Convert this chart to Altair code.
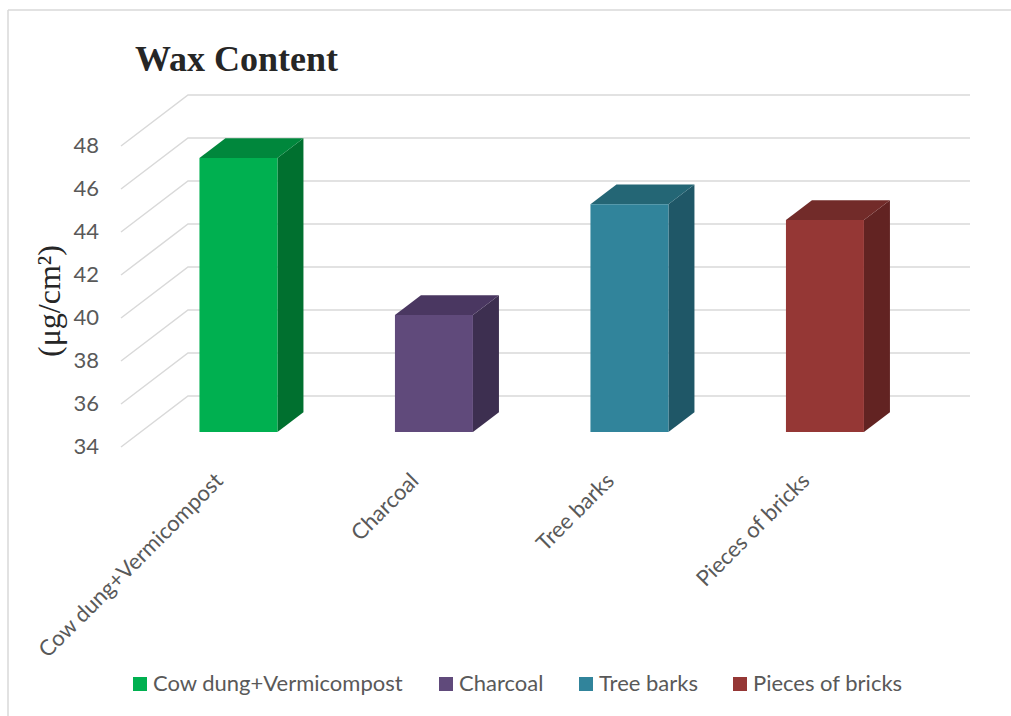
import altair as alt
import pandas as pd

# ---------------- data ----------------
categories = ["Cow dung+Vermicompost", "Charcoal", "Tree barks", "Pieces of bricks"]
values = [46.74, 39.44, 44.59, 43.86]
front_colors = ["#00B050", "#604A7B", "#31849B", "#953735"]
top_colors = ["#00873C", "#4A3761", "#246675", "#722B29"]
side_colors = ["#00702F", "#3D2F50", "#1F5767", "#622322"]
tick_values = [34, 36, 38, 40, 42, 44, 46, 48]
tick_labels = ["34", "36", "38", "40", "42", "44", "46", "48"]
title_text = "Wax Content"
y_title = "(\u03bcg/cm\u00b2)"

# ---------------- layout (pseudo-3D projection) ----------------
W, H = 1011, 716
PX_U = 195.5          # pixels per category band
PX_V = 21.5           # pixels per value unit
X0, Y0 = 121, 447     # front-plane origin in pixels
BASE = 34
x_dom = [-X0 / PX_U, (W - X0) / PX_U]
y_dom = [BASE - (H - Y0) / PX_V, BASE + Y0 / PX_V]

wall_dx, wall_dy = 67 / PX_U, 51 / PX_V          # depth of the back wall
off_dx, off_dy = 19.7 / PX_U, 15 / PX_V          # bar front plane offset
dep_dx, dep_dy = 26 / PX_U, 19.8 / PX_V          # bar depth
bar_w = 78 / PX_U
n = len(categories)

xs = alt.Scale(domain=x_dom, nice=False, zero=False)
ys = alt.Scale(domain=y_dom, nice=False, zero=False)

# gridlines
grid_rows = []
for v in tick_values:
    grid_rows.append({"tick": v, "x": 0.0, "y": v})
    grid_rows.append({"tick": v, "x": wall_dx, "y": v + wall_dy})
    grid_rows.append({"tick": v, "x": n + wall_dx, "y": v + wall_dy})
grid_df = pd.DataFrame(grid_rows)

front_rows, side_rows, top_rows = [], [], []
for i, (c, v) in enumerate(zip(categories, values)):
    xl = i + 0.5 - bar_w / 2 + off_dx
    xr = xl + bar_w
    yb = BASE + off_dy
    yt = v + off_dy
    front_rows.append({"cat": c, "x": xl, "x2": xr, "y": yb, "y2": yt})
    side_rows += [
        {"cat": c, "col": side_colors[i], "x": xr, "lo": yb, "hi": yt},
        {"cat": c, "col": side_colors[i], "x": xr + dep_dx, "lo": yb + dep_dy, "hi": yt + dep_dy},
    ]
    top_rows += [
        {"cat": c, "col": top_colors[i], "x": xl, "lo": yt, "hi": yt},
        {"cat": c, "col": top_colors[i], "x": xl + dep_dx, "lo": yt, "hi": yt + dep_dy},
        {"cat": c, "col": top_colors[i], "x": xr, "lo": yt, "hi": yt + dep_dy},
        {"cat": c, "col": top_colors[i], "x": xr + dep_dx, "lo": yt + dep_dy, "hi": yt + dep_dy},
    ]
front_df = pd.DataFrame(front_rows)
side_df = pd.DataFrame(side_rows)
top_df = pd.DataFrame(top_rows)

label_df = pd.DataFrame({"cat": categories, "u": [i + 0.5 for i in range(n)]})
tick_df = pd.DataFrame({"v": tick_values, "lab": tick_labels})

GRID = "#D9D9D9"
TXT = "#595959"
SANS = "Lato"

border_df = pd.DataFrame({"d": [0]})
border_top = alt.Chart(border_df).mark_rule(color=GRID, strokeWidth=1.5).encode(
    x=alt.value(8), x2=alt.value(W), y=alt.value(10))
border_left = alt.Chart(border_df).mark_rule(color=GRID, strokeWidth=1.5).encode(
    x=alt.value(8), y=alt.value(10), y2=alt.value(H))

grid = alt.Chart(grid_df).mark_line(color=GRID, strokeWidth=1.5).encode(
    x=alt.X("x:Q", scale=xs, axis=None),
    y=alt.Y("y:Q", scale=ys, axis=None),
    detail="tick:N",
    order="x:Q",
)

side = alt.Chart(side_df).mark_area(opacity=1).encode(
    x=alt.X("x:Q", scale=xs, axis=None),
    y=alt.Y("lo:Q", scale=ys, axis=None, stack=None),
    y2="hi:Q",
    fill=alt.Fill("col:N", scale=None, legend=None),
    detail="cat:N",
)
top = alt.Chart(top_df).mark_area(opacity=1).encode(
    x=alt.X("x:Q", scale=xs, axis=None),
    y=alt.Y("lo:Q", scale=ys, axis=None, stack=None),
    y2="hi:Q",
    fill=alt.Fill("col:N", scale=None, legend=None),
    detail="cat:N",
)

front = alt.Chart(front_df).mark_rect().encode(
    x=alt.X("x:Q", scale=xs, axis=None),
    x2="x2:Q",
    y=alt.Y("y:Q", scale=ys, axis=None),
    y2="y2:Q",
    color=alt.Color(
        "cat:N",
        scale=alt.Scale(domain=categories, range=front_colors),
        legend=alt.Legend(
            orient="none", legendX=129, legendY=673, direction="horizontal",
            title=None, symbolType="square", symbolSize=196, symbolStrokeWidth=0,
            labelFont=SANS, labelFontSize=22, labelColor=TXT, labelOffset=2,
            columnPadding=31, padding=0, labelLimit=400,
        ),
    ),
)

ytick_text = alt.Chart(tick_df).mark_text(
    align="right", baseline="middle", font=SANS, fontSize=22, color=TXT
).encode(x=alt.value(99), y=alt.Y("v:Q", scale=ys, axis=None), text="lab:N")

cat_text = alt.Chart(label_df).mark_text(
    align="right", baseline="middle", angle=315, font=SANS, fontSize=22, color=TXT, dx=1
).encode(x=alt.X("u:Q", scale=xs, axis=None), y=alt.value(478), text="cat:N")

title = alt.Chart(pd.DataFrame({"t": [title_text]})).mark_text(
    align="left", baseline="alphabetic", font="Liberation Serif", fontSize=36,
    fontWeight="bold", color="#262626"
).encode(x=alt.value(135), y=alt.value(71), text="t:N")

ytitle = alt.Chart(pd.DataFrame({"t": [y_title]})).mark_text(
    align="center", baseline="middle", angle=270, font="Liberation Serif",
    fontSize=32, color="#262626"
).encode(x=alt.value(50), y=alt.value(301), text="t:N")

chart = alt.layer(
    border_top, border_left, grid, side, top, front, ytick_text, cat_text, title, ytitle
).properties(
    width=W, height=H, autosize=alt.AutoSizeParams(type="none"), padding=0,
    background="white",
).configure_view(stroke=None)

chart.save("out.html", embed_options={"renderer": "svg", "actions": False})
